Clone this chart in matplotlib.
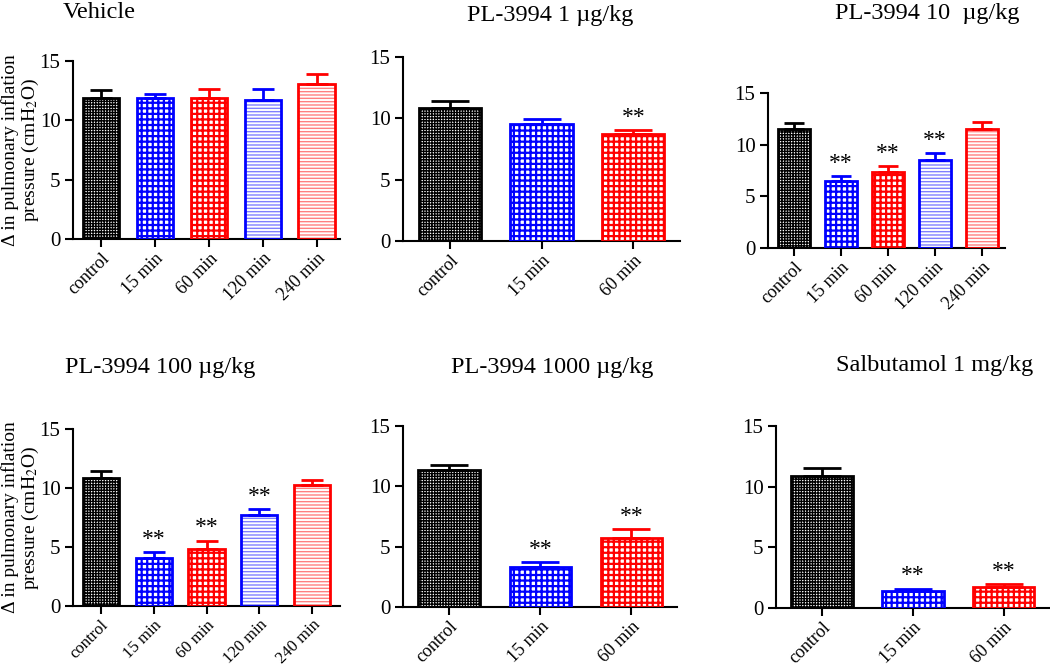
import matplotlib
matplotlib.use("Agg")
import matplotlib.pyplot as plt
import numpy as np

plt.rcParams['font.family'] = ['Liberation Serif', 'DejaVu Serif']
plt.rcParams['mathtext.fontset'] = 'stix'

cats5 = ["control", "15 min", "60 min", "120 min", "240 min"]
cats3 = ["control", "15 min", "60 min"]

titles = ["Vehicle", "PL-3994 1 µg/kg", "PL-3994 10  µg/kg",
          "PL-3994 100 µg/kg", "PL-3994 1000 µg/kg", "Salbutamol 1 mg/kg"]

vehicle_mean = [11.85, 11.9, 11.9, 11.75, 13.1]
vehicle_sem = [0.7, 0.3, 0.7, 0.9, 0.8]
vehicle_sig = [False, False, False, False, False]

pl1_mean = [10.85, 9.55, 8.7]
pl1_sem = [0.55, 0.4, 0.35]
pl1_sig = [False, False, True]

pl10_mean = [11.55, 6.5, 7.4, 8.55, 11.55]
pl10_sem = [0.55, 0.5, 0.55, 0.6, 0.6]
pl10_sig = [False, True, True, True, False]

pl100_mean = [10.85, 4.05, 4.85, 7.7, 10.25]
pl100_sem = [0.55, 0.5, 0.7, 0.5, 0.45]
pl100_sig = [False, True, True, True, False]

pl1000_mean = [11.35, 3.35, 5.7]
pl1000_sem = [0.4, 0.35, 0.75]
pl1000_sig = [False, True, True]

salb_mean = [10.9, 1.37, 1.73]
salb_sem = [0.6, 0.22, 0.22]
salb_sig = [False, True, True]

panels = [
    (cats5, vehicle_mean, vehicle_sem, vehicle_sig),
    (cats3, pl1_mean, pl1_sem, pl1_sig),
    (cats5, pl10_mean, pl10_sem, pl10_sig),
    (cats5, pl100_mean, pl100_sem, pl100_sig),
    (cats3, pl1000_mean, pl1000_sem, pl1000_sig),
    (cats3, salb_mean, salb_sem, salb_sig),
]

# axes boxes in pixels: x0, x1, ytop, ybottom
boxes = [(73, 340, 61, 239), (403, 680, 57, 241), (768, 1005, 93, 248),
         (73, 340, 429, 606), (403, 677, 426, 607), (776, 1049, 426, 608)]
xlims = [(-0.52, 4.43), (-0.51, 2.51), (-0.55, 4.49),
         (-0.52, 4.52), (-0.51, 2.5), (-0.505, 2.5)]
xtick_size = [13, 13, 13, 12, 13, 13]
# title: x, y (pixels), ha
title_pos = [(63, 13, 'left'), (550, 15, 'center'), (927, 14, 'center'),
             (160, 367, 'center'), (552, 367, 'center'), (935, 365, 'center')]

# style per category: edge colour, hatch colour, hatch, hatch lw
styles = {
    "control": ("black", "black", "++++++", 1.0),
    "15 min": ("#0000ff", "#0000ff", "+++", 1.6),
    "60 min": ("#ff0000", "#ff0000", "+++", 1.6),
    "120 min": ("#0000ff", "#8080ff", "-----", 1.0),
    "240 min": ("#ff0000", "#ff8080", "-----", 1.0),
}

W, H = 1050, 667
fig = plt.figure(figsize=(W / 100, H / 100), dpi=100)

for i, (cats, mean, sem, sig) in enumerate(panels):
    x0, x1, yt, yb = boxes[i]
    ax = fig.add_axes([x0 / W, 1 - yb / H, (x1 - x0) / W, (yb - yt) / H])
    xs = np.arange(len(cats))
    width = 0.68
    bar_px = width * (x1 - x0) / (xlims[i][1] - xlims[i][0])
    for j, c in enumerate(cats):
        ec, hc, hatch, hlw = styles[c]
        plt.rcParams['hatch.linewidth'] = hlw
        fill = ax.bar(xs[j], mean[j], width, color='white', edgecolor=hc,
                      hatch=hatch, linewidth=0, zorder=2)
        for p in fill:
            if hasattr(p, 'set_hatch_linewidth'):
                p.set_hatch_linewidth(hlw)
        ax.bar(xs[j], mean[j], width, color='none', edgecolor=ec,
               linewidth=2, zorder=3)
        ax.errorbar(xs[j], mean[j], yerr=[[0], [sem[j]]], fmt='none',
                    ecolor=ec, elinewidth=2, capsize=bar_px * 0.3 * 0.72,
                    capthick=2, zorder=4)
        if sig[j]:
            ax.text(xs[j], mean[j] + sem[j] + 0.2, "**", ha='center',
                    va='bottom', fontsize=17)
    ax.set_xlim(*xlims[i])
    ax.set_ylim(0, 15)
    ax.set_yticks([0, 5, 10, 15])
    ax.set_xticks(xs)
    ax.set_xticklabels(cats, rotation=45, ha='right', rotation_mode='anchor',
                       fontsize=xtick_size[i])
    ax.tick_params(axis='y', labelsize=15, width=1.5, length=6, pad=3)
    ax.tick_params(axis='x', width=1.5, length=6, pad=2)
    for s in ['top', 'right']:
        ax.spines[s].set_visible(False)
    for s in ['left', 'bottom']:
        ax.spines[s].set_linewidth(1.5)
    if i in (0, 3):
        ax.set_ylabel("Δ in pulmonary inflation\npressure (cmH$_2$O)",
                      fontsize=14, va='center', linespacing=1.1)
        ax.yaxis.set_label_coords(-52 / (x1 - x0), 0.5)
    tx, ty, ha = title_pos[i]
    fig.text(tx / W, 1 - ty / H, titles[i], ha=ha, va='center', fontsize=17.5)

plt.savefig("out.png", dpi=100)
